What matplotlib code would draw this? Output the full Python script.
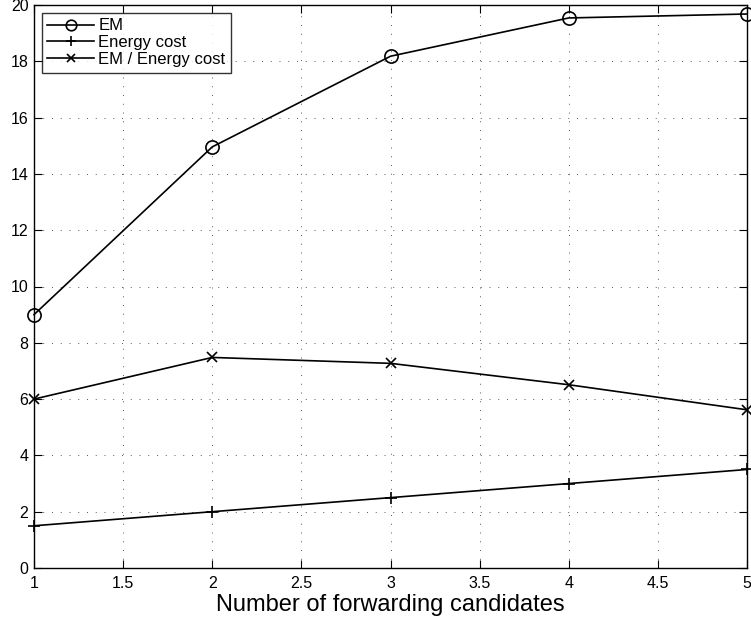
import matplotlib
matplotlib.use("Agg")
import matplotlib.pyplot as plt

plt.rcParams['font.family'] = ['Liberation Sans', 'DejaVu Sans']

candidates = [1, 2, 3, 4, 5]
em = [9.0, 14.96, 18.18, 19.54, 19.68]
energy_cost = [1.5, 2.0, 2.5, 3.0, 3.5]
em_per_energy = [6.0, 7.48, 7.27, 6.51, 5.62]

xticks = [1, 1.5, 2, 2.5, 3, 3.5, 4, 4.5, 5]
xticklabels = ['1', '1.5', '2', '2.5', '3', '3.5', '4', '4.5', '5']
yticks = [0, 2, 4, 6, 8, 10, 12, 14, 16, 18, 20]

fig = plt.figure(figsize=(7.51, 6.27), dpi=100)
ax = fig.add_axes([34/751, 59/627, 713/751, 563/627])

ax.plot(candidates, em, color='black', lw=1.2, marker='o', markersize=9.5,
        markerfacecolor='none', markeredgewidth=1.2, label='EM', clip_on=False)
ax.plot(candidates, energy_cost, color='black', lw=1.2, marker='+', markersize=9,
        markeredgewidth=1.2, label='Energy cost', clip_on=False)
ax.plot(candidates, em_per_energy, color='black', lw=1.2, marker='x', markersize=7,
        markeredgewidth=1.2, label='EM / Energy cost', clip_on=False)

ax.set_xlim(1, 5)
ax.set_ylim(0, 20)
ax.set_xticks(xticks)
ax.set_xticklabels(xticklabels)
ax.set_yticks(yticks)
ax.tick_params(direction='in', top=True, right=True, labelsize=11.5, length=5.5, width=0.8)
ax.tick_params(axis='x', pad=6)
ax.tick_params(axis='y', pad=4)
ax.grid(True, linestyle=(0, (1, 8)), color='0.35', linewidth=0.7)
for s in ax.spines.values():
    s.set_linewidth(1.0)

ax.set_xlabel('Number of forwarding candidates', fontsize=17, labelpad=2)

leg = ax.legend(loc='upper left', fontsize=12, frameon=True, fancybox=False,
                edgecolor='black', borderpad=0.35, labelspacing=0.1, markerscale=0.8,
                handlelength=2.8, handletextpad=0.25, borderaxespad=0.45)
leg.get_frame().set_linewidth(1.0)

fig.savefig('out.png', dpi=100)
